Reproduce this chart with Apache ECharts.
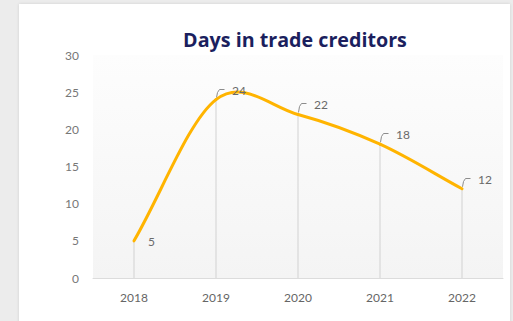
<!DOCTYPE html>
<html>
<head>
<meta charset="utf-8">
<script src="https://cdn.jsdelivr.net/npm/echarts@6/dist/echarts.min.js"></script>
<style>
  html, body { margin: 0; padding: 0; width: 513px; height: 321px; background: #ececec; overflow: hidden; }
  #card { position: absolute; left: 19px; top: 4px; width: 491px; height: 330px; background: #ffffff;
          box-shadow: 0 0 3px rgba(0,0,0,0.12); }
  #chart { position: absolute; left: 0; top: 0; width: 513px; height: 321px; }
</style>
</head>
<body>
<div id="card"></div>
<div id="chart"></div>
<script>
// Days in trade creditors, by year
const years = ['2018', '2019', '2020', '2021', '2022'];
const days = [5, 24, 22, 18, 12];
const yTicks = [0, 5, 10, 15, 20, 25, 30];

const LINE_COLOR = '#ffb400';
const LEADER_COLOR = '#8c8c8c';
const LABEL_COLOR = '#6a6a6a';

// pixel position of point k; past either end the neighbour is mirrored
function pointAt(api, k) {
  const n = days.length;
  if (k < 0) {
    const a = api.coord([0, days[0]]), b = api.coord([1, days[1]]);
    return [2 * a[0] - b[0], 2 * a[1] - b[1]];
  }
  if (k > n - 1) {
    const a = api.coord([n - 1, days[n - 1]]), b = api.coord([n - 2, days[n - 2]]);
    return [2 * a[0] - b[0], 2 * a[1] - b[1]];
  }
  return api.coord([k, days[k]]);
}

// Catmull-Rom segment from point i to point i+1 as a cubic Bezier
function segmentPath(api, i) {
  const p0 = pointAt(api, i - 1), p1 = pointAt(api, i), p2 = pointAt(api, i + 1), p3 = pointAt(api, i + 2);
  const c1 = [p1[0] + (p2[0] - p0[0]) / 6, p1[1] + (p2[1] - p0[1]) / 6];
  const c2 = [p2[0] - (p3[0] - p1[0]) / 6, p2[1] - (p3[1] - p1[1]) / 6];
  return 'M' + p1[0] + ' ' + p1[1] + ' C' + c1[0] + ' ' + c1[1] + ' ' +
         c2[0] + ' ' + c2[1] + ' ' + p2[0] + ' ' + p2[1];
}

function renderItem(params, api) {
  const i = params.dataIndex;
  const pt = api.coord([i, api.value(1)]);
  const children = [];
  if (i < days.length - 1) {
    children.push({
      type: 'path',
      shape: { pathData: segmentPath(api, i) },
      style: { fill: null, stroke: LINE_COLOR, lineWidth: 3, lineCap: 'round' },
      z2: 10
    });
  }
  const labelFont = '12px Lato';
  if (i === 0) {
    children.push({
      type: 'text',
      style: {
        text: String(api.value(1)), x: pt[0] + 14, y: pt[1] + 1,
        fill: LABEL_COLOR, font: labelFont, verticalAlign: 'middle', align: 'left'
      },
      z2: 20
    });
  } else {
    // small hooked leader rising from the point towards its label
    const x0 = Math.round(pt[0]) + 0.5;
    const ly = Math.round(pt[1] - 11) + 0.5;
    children.push({
      type: 'polyline',
      shape: { points: [[x0, pt[1] - 2], [x0 + 1, ly + 3], [x0 + 3, ly], [x0 + 8, ly]] },
      style: { fill: null, stroke: LEADER_COLOR, lineWidth: 1 },
      z2: 5
    });
    children.push({
      type: 'text',
      style: {
        text: String(api.value(1)), x: pt[0] + 16, y: ly + 1,
        fill: LABEL_COLOR, font: labelFont, verticalAlign: 'middle', align: 'left'
      },
      z2: 20
    });
  }
  return { type: 'group', children: children };
}

const chart = echarts.init(document.getElementById('chart'), null, { renderer: 'svg' });

chart.setOption({
  backgroundColor: 'transparent',
  animation: false,
  title: {
    text: 'Days in trade creditors',
    left: 290,
    top: 24,
    textAlign: 'center',
    textStyle: { fontFamily: 'Open Sans', fontWeight: 'bold', fontSize: 19.7, color: '#1b1f5e' }
  },
  grid: {
    left: 93, right: 10, top: 55, bottom: 43,
    show: true, borderWidth: 0,
    backgroundColor: {
      type: 'linear', x: 0, y: 0, x2: 0, y2: 1,
      colorStops: [{ offset: 0, color: '#fdfdfd' }, { offset: 1, color: '#f4f4f4' }]
    }
  },
  xAxis: {
    type: 'category',
    data: years,
    boundaryGap: true,
    axisLine: { lineStyle: { color: '#dcdcdc', width: 1 } },
    axisTick: { show: false },
    axisLabel: { color: '#666666', fontFamily: 'Lato', fontSize: 12, margin: 13 }
  },
  yAxis: {
    type: 'value',
    min: yTicks[0],
    max: yTicks[yTicks.length - 1],
    interval: 5,
    axisLine: { show: false },
    axisTick: { show: false },
    splitLine: { show: false },
    axisLabel: { color: '#777777', fontFamily: 'Lato', fontSize: 12, margin: 14 }
  },
  series: [
    {
      // thin drop lines from each point down to the axis
      type: 'bar',
      data: days,
      barWidth: 1,
      itemStyle: { color: '#d2d2d2' },
      silent: true,
      z: 1
    },
    {
      type: 'custom',
      data: days.map((v, i) => [i, v]),
      renderItem: renderItem,
      silent: true,
      z: 3
    }
  ]
});
</script>
</body>
</html>
